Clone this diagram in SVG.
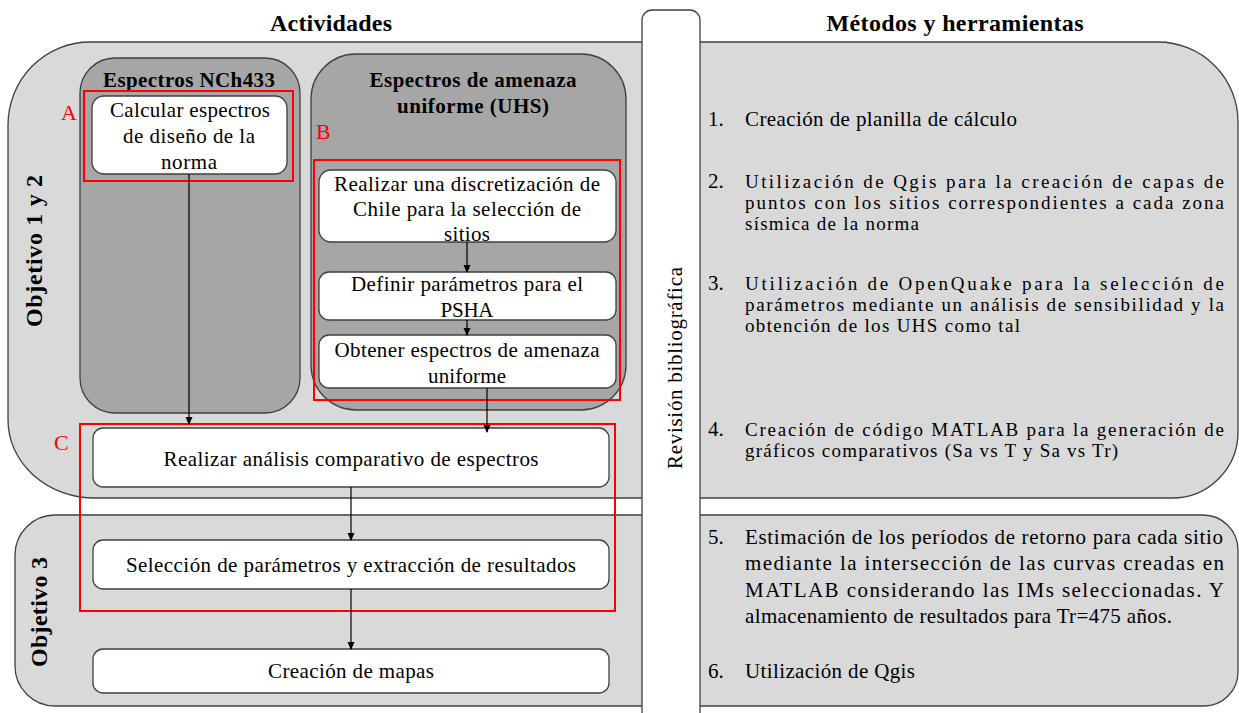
<svg xmlns="http://www.w3.org/2000/svg" width="1239" height="713" viewBox="0 0 1239 713">
<defs>
<marker id="ah" markerWidth="8" markerHeight="8" refX="7" refY="4" orient="auto" markerUnits="userSpaceOnUse">
<path d="M0,0.5 L8,4 L0,7.5 Z" fill="#000"/>
</marker>
<style>
.t{font-family:"Liberation Serif","Times New Roman",serif;fill:#000;font-size:21px;}
.s{font-size:19px;}
.b{font-weight:bold;}
.h{font-size:24px;}
.region{fill:#d9d9d9;stroke:#404040;stroke-width:1.3;}
.dark{fill:#a6a6a6;stroke:#404040;stroke-width:1.3;}
.box{fill:#fff;stroke:#404040;stroke-width:1.3;}
.red{fill:none;stroke:#ff0000;stroke-width:2;}
.redt{font-family:"Liberation Serif","Times New Roman",serif;fill:#ff0000;font-size:22px;}
.c{stroke:#000;stroke-width:1.2;fill:none;marker-end:url(#ah);}
</style>
</defs>
<rect width="1239" height="713" fill="#fff"/>

<g id="titles">
<text class="t b h" x="331" y="31" text-anchor="middle" textLength="122" lengthAdjust="spacing">Actividades</text>
<text class="t b h" x="955" y="31" text-anchor="middle" textLength="257" lengthAdjust="spacing">Métodos y herramientas</text>
</g>

<g id="objetivo12">
<path class="region" d="M90,42 H1158 A80,80 0 0 1 1238,122 V432 A66,66 0 0 1 1172,498 H95 A87,78 0 0 1 8,420 V125 A82,83 0 0 1 90,42 Z"/>
<text class="t b h" text-anchor="middle" transform="translate(42,251) rotate(-90)" textLength="152" lengthAdjust="spacing">Objetivo 1 y 2</text>
</g>

<g id="objetivo3">
<path class="region" d="M55,515 H1203 A35,35 0 0 1 1238,550 V672 A34,34 0 0 1 1204,706 H55 A40,40 0 0 1 15,666 V555 A40,40 0 0 1 55,515 Z"/>
<text class="t b h" text-anchor="middle" transform="translate(47,612) rotate(-90)" textLength="110" lengthAdjust="spacing">Objetivo 3</text>
</g>

<g id="revision">
<path d="M642,730 V20 A10,10 0 0 1 652,10 H690 A10,10 0 0 1 700,20 V730" fill="#fff" stroke="#404040" stroke-width="1.3"/>
<text class="t" font-size="22" text-anchor="middle" transform="translate(682,368) rotate(-90)" textLength="202" lengthAdjust="spacing">Revisión bibliográfica</text>
</g>

<g id="nch433">
<rect class="dark" x="80" y="58" width="220" height="355" rx="35" ry="35"/>
<text class="t b" x="189" y="87" text-anchor="middle" textLength="172" lengthAdjust="spacing">Espectros NCh433</text>
</g>

<g id="uhs">
<rect class="dark" x="311" y="54" width="315" height="356" rx="45" ry="45"/>
<text class="t b" x="473" y="87" text-anchor="middle" textLength="207" lengthAdjust="spacing">Espectros de amenaza</text>
<text class="t b" x="473" y="113" text-anchor="middle" textLength="152" lengthAdjust="spacing">uniforme  (UHS)</text>
</g>

<g id="nodeA">
<rect class="box" x="92" y="96" width="195" height="78" rx="12" ry="12"/>
<text class="t" x="190" y="117" text-anchor="middle" textLength="160" lengthAdjust="spacing">Calcular espectros</text>
<text class="t" x="189" y="143" text-anchor="middle" textLength="132" lengthAdjust="spacing">de diseño de la</text>
<text class="t" x="189" y="169" text-anchor="middle" textLength="56" lengthAdjust="spacing">norma</text>
</g>

<g id="nodeB1">
<rect class="box" x="319" y="170" width="297" height="72" rx="12" ry="12"/>
<text class="t" x="467" y="191" text-anchor="middle" textLength="266" lengthAdjust="spacing">Realizar una discretización de</text>
<text class="t" x="467" y="216" text-anchor="middle" textLength="228" lengthAdjust="spacing">Chile para la selección de</text>
<text class="t" x="467" y="241" text-anchor="middle" textLength="46" lengthAdjust="spacing">sitios</text>
</g>

<g id="nodeB2">
<rect class="box" x="319" y="272" width="297" height="48" rx="10" ry="10"/>
<text class="t" x="467" y="291" text-anchor="middle" textLength="232" lengthAdjust="spacing">Definir parámetros para el</text>
<text class="t" x="467" y="317" text-anchor="middle" textLength="53" lengthAdjust="spacing">PSHA</text>
</g>

<g id="nodeB3">
<rect class="box" x="319" y="335" width="297" height="53" rx="10" ry="10"/>
<text class="t" x="467" y="357" text-anchor="middle" textLength="265" lengthAdjust="spacing">Obtener espectros de amenaza</text>
<text class="t" x="467" y="383" text-anchor="middle" textLength="78" lengthAdjust="spacing">uniforme</text>
</g>

<g id="nodeC1">
<rect class="box" x="93" y="428" width="516" height="59" rx="10" ry="10"/>
<text class="t" x="351" y="466" text-anchor="middle" textLength="375" lengthAdjust="spacing">Realizar análisis comparativo de espectros</text>
</g>

<g id="nodeC2">
<rect class="box" x="93" y="540" width="516" height="49" rx="10" ry="10"/>
<text class="t" x="351" y="572" text-anchor="middle" textLength="450" lengthAdjust="spacing">Selección de parámetros y extracción de resultados</text>
</g>

<g id="nodeMapas">
<rect class="box" x="93" y="649" width="516" height="44" rx="10" ry="10"/>
<text class="t" x="351" y="678" text-anchor="middle" textLength="166" lengthAdjust="spacing">Creación de mapas</text>
</g>

<g id="highlights">
<rect class="red" x="84" y="91" width="209" height="90"/>
<text class="redt" x="61" y="120">A</text>
<rect class="red" x="314" y="160" width="306" height="240"/>
<text class="redt" x="316" y="139">B</text>
<rect class="red" x="80" y="424" width="535" height="187"/>
<text class="redt" x="54" y="450">C</text>
</g>

<g id="connectors">
<line class="c" x1="189" y1="174" x2="189" y2="424"/>
<line class="c" x1="487" y1="388" x2="487" y2="432"/>
<line class="c" x1="467" y1="242" x2="467" y2="272"/>
<line class="c" x1="467" y1="320" x2="467" y2="335"/>
<line class="c" x1="351" y1="487" x2="351" y2="540"/>
<line class="c" x1="351" y1="589" x2="351" y2="649"/>
</g>

<g id="methods" class="t">
<text x="708" y="126">1.</text>
<text x="745" y="126" textLength="272" lengthAdjust="spacing">Creación de planilla de cálculo</text>
<text x="708" y="188">2.</text>
<text class="s" x="745" y="188" textLength="479" lengthAdjust="spacing">Utilización de Qgis para la creación de capas de</text>
<text class="s" x="745" y="209" textLength="479" lengthAdjust="spacing">puntos con los sitios correspondientes a cada zona</text>
<text class="s" x="745" y="230" textLength="174" lengthAdjust="spacing">sísmica de la norma</text>
<text x="708" y="290">3.</text>
<text class="s" x="745" y="290" textLength="479" lengthAdjust="spacing">Utilización de OpenQuake para la selección de</text>
<text class="s" x="745" y="311" textLength="479" lengthAdjust="spacing">parámetros mediante un análisis de sensibilidad y la</text>
<text class="s" x="745" y="332" textLength="275" lengthAdjust="spacing">obtención de los UHS como tal</text>
<text x="708" y="436">4.</text>
<text class="s" x="745" y="436" textLength="479" lengthAdjust="spacing">Creación de código MATLAB para la generación de</text>
<text class="s" x="745" y="457" textLength="373" lengthAdjust="spacing">gráficos comparativos (Sa vs T y Sa vs Tr)</text>
<text x="708" y="544">5.</text>
<text x="745" y="544" textLength="478" lengthAdjust="spacing">Estimación de los períodos de retorno para cada sitio</text>
<text x="745" y="570" textLength="479" lengthAdjust="spacing">mediante la intersección de las curvas creadas en</text>
<text x="745" y="597" textLength="479" lengthAdjust="spacing">MATLAB considerando las IMs seleccionadas. Y</text>
<text x="745" y="623" textLength="427" lengthAdjust="spacing">almacenamiento de resultados para Tr=475 años.</text>
<text x="708" y="678">6.</text>
<text x="745" y="678" textLength="170" lengthAdjust="spacing">Utilización de Qgis</text>
</g>
</svg>
